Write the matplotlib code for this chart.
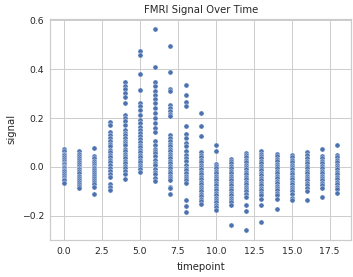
import matplotlib
matplotlib.use("Agg")
import matplotlib.pyplot as plt
import seaborn as sns
import pandas as pd

# signal values, one list per timepoint
sig_t0 = [0.075, 0.065, 0.055, 0.048, 0.04, 0.032, 0.025, 0.018, 0.012, 0.006, 0.0, -0.005,
          -0.012, -0.018, -0.025, -0.032, -0.04, -0.048, -0.055, -0.065]
sig_t1 = [0.064, 0.055, 0.045, 0.036, 0.028, 0.02, 0.012, 0.005, -0.003, -0.01, -0.018, -0.026,
          -0.035, -0.044, -0.052, -0.06, -0.068, -0.076, -0.085]
sig_t2 = [0.078, 0.045, 0.035, 0.026, 0.018, 0.01, 0.002, -0.006, -0.014, -0.022, -0.03, -0.038,
          -0.046, -0.054, -0.062, -0.07, -0.08, -0.11]
sig_t3 = [0.186, 0.172, 0.142, 0.13, 0.118, 0.105, 0.095, 0.085, 0.07, 0.06, 0.05, 0.04, 0.03,
          0.02, 0.008, -0.003, -0.015, -0.03, -0.04, -0.07, -0.08, -0.095]
sig_t4 = [0.347, 0.332, 0.318, 0.302, 0.288, 0.262, 0.213, 0.2, 0.19, 0.17, 0.152, 0.14, 0.13,
          0.118, 0.108, 0.098, 0.088, 0.075, 0.065, 0.055, 0.045, 0.035, 0.025, 0.015, 0.005,
          -0.005, -0.015, -0.03, -0.049]
sig_t5 = [0.476, 0.457, 0.38, 0.316, 0.26, 0.248, 0.235, 0.213, 0.193, 0.18, 0.165, 0.15, 0.14,
          0.128, 0.115, 0.102, 0.09, 0.08, 0.07, 0.06, 0.05, 0.04, 0.03, 0.02, 0.01, 0.0, -0.01, -0.02]
sig_t6 = [0.565, 0.407, 0.348, 0.33, 0.31, 0.295, 0.28, 0.262, 0.24, 0.22, 0.2, 0.18, 0.16, 0.145,
          0.105, 0.09, 0.075, 0.065, 0.057, 0.045, 0.03, 0.018, 0.008, -0.008, -0.02, -0.03,
          -0.045, -0.058]
sig_t7 = [0.495, 0.39, 0.32, 0.31, 0.255, 0.242, 0.228, 0.215, 0.207, 0.132, 0.118, 0.105, 0.095,
          0.085, 0.075, 0.065, 0.055, 0.045, 0.035, 0.025, 0.015, 0.005, -0.005, -0.015, -0.025,
          -0.035, -0.045, -0.055, -0.08, -0.086, -0.11]
sig_t8 = [0.336, 0.295, 0.264, 0.25, 0.169, 0.135, 0.118, 0.1, 0.087, 0.064, 0.05, 0.037, 0.023,
          0.01, -0.004, -0.014, -0.024, -0.035, -0.045, -0.055, -0.065, -0.137, -0.16, -0.184]
sig_t9 = [0.22, 0.169, 0.128, 0.06, 0.05, 0.04, 0.03, 0.02, 0.01, 0.0, -0.01, -0.02, -0.03, -0.04,
          -0.05, -0.06, -0.07, -0.08, -0.09, -0.1, -0.11, -0.12, -0.13, -0.14, -0.15]
sig_t10 = [0.088, 0.064, 0.014, 0.005, -0.005, -0.015, -0.025, -0.035, -0.045, -0.055, -0.065,
           -0.075, -0.085, -0.095, -0.105, -0.115, -0.125, -0.135, -0.145, -0.155, -0.165, -0.177]
sig_t11 = [0.033, 0.024, 0.015, 0.005, -0.005, -0.015, -0.025, -0.035, -0.045, -0.055, -0.065,
           -0.075, -0.085, -0.095, -0.105, -0.115, -0.125, -0.135, -0.145, -0.154, -0.238]
sig_t12 = [0.057, 0.048, 0.04, 0.03, 0.02, 0.01, 0.0, -0.01, -0.02, -0.03, -0.04, -0.05, -0.06,
           -0.07, -0.08, -0.09, -0.1, -0.11, -0.124, -0.154, -0.181, -0.256]
sig_t13 = [0.064, 0.055, 0.046, 0.036, 0.026, 0.016, 0.006, -0.004, -0.014, -0.024, -0.034,
           -0.044, -0.054, -0.064, -0.074, -0.084, -0.094, -0.105, -0.115, -0.13, -0.157, -0.226]
sig_t14 = [0.053, 0.044, 0.034, 0.024, 0.014, 0.004, -0.006, -0.016, -0.026, -0.036, -0.046,
           -0.056, -0.066, -0.076, -0.086, -0.096, -0.106, -0.116, -0.13, -0.17]
sig_t15 = [0.05, 0.04, 0.03, 0.02, 0.01, 0.0, -0.01, -0.02, -0.03, -0.04, -0.05, -0.06, -0.07,
           -0.08, -0.09, -0.1, -0.112, -0.125, -0.137]
sig_t16 = [0.061, 0.05, 0.035, 0.025, 0.015, 0.005, -0.005, -0.015, -0.025, -0.035, -0.045,
           -0.055, -0.065, -0.075, -0.085, -0.097, -0.133]
sig_t17 = [0.073, 0.044, 0.035, 0.025, 0.015, 0.005, -0.005, -0.015, -0.025, -0.035, -0.045,
           -0.055, -0.065, -0.075, -0.086, -0.124]
sig_t18 = [0.088, 0.05, 0.04, 0.03, 0.02, 0.01, 0.0, -0.01, -0.02, -0.03, -0.04, -0.05, -0.06,
           -0.07, -0.08, -0.09, -0.106]

columns = [sig_t0, sig_t1, sig_t2, sig_t3, sig_t4, sig_t5, sig_t6, sig_t7, sig_t8, sig_t9,
           sig_t10, sig_t11, sig_t12, sig_t13, sig_t14, sig_t15, sig_t16, sig_t17, sig_t18]

rows = []
for tp, vals in enumerate(columns):
    for v in vals:
        rows.append({'timepoint': tp, 'signal': v})
df = pd.DataFrame(rows)

sns.set_theme(style="whitegrid", font_scale=0.87)

dpi = 70
fig = plt.figure(figsize=(353 / dpi, 277 / dpi), dpi=dpi)
ax = fig.add_axes([0.143, 0.135, 0.851, 0.797])
sns.scatterplot(data=df, x='timepoint', y='signal', s=28, ax=ax)
ax.set_title('FMRI Signal Over Time')
# no tick marks, labels sit a little off the frame
ax.tick_params(axis='x', length=0, pad=8)
ax.tick_params(axis='y', length=0, pad=6.5)
ax.xaxis.labelpad = 6
ax.yaxis.labelpad = 6

fig.savefig('out.png', dpi=dpi)
